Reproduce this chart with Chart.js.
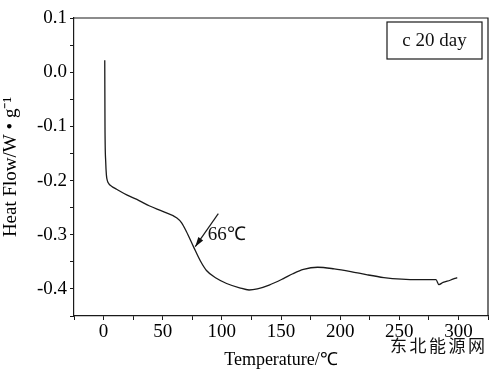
<!DOCTYPE html>
<html>
<head>
<meta charset="utf-8">
<script src="https://cdn.jsdelivr.net/npm/chart.js@4/dist/chart.umd.min.js"></script>
<style>
  html, body { margin: 0; padding: 0; background: #fff; }
  #wrap { width: 500px; height: 371px; }
</style>
</head>
<body>
<div id="wrap"><canvas id="dscChart" width="500" height="371"></canvas></div>
<script>
// DSC curve, sample c after 20 days
const temperature = [1, 1.2, 1.8, 2.4, 3.2, 4.5, 7, 11, 20, 30, 39, 50, 62, 66, 70, 76, 82, 87, 95, 104, 115, 123, 130, 140, 152, 160, 169, 181, 195, 209, 223, 237, 252, 266, 281, 283.5, 287, 293, 299];
const heatFlow = [0.022, -0.1, -0.165, -0.19, -0.2, -0.206, -0.211, -0.216, -0.227, -0.237, -0.247, -0.257, -0.269, -0.278, -0.294, -0.322, -0.349, -0.366, -0.38, -0.39, -0.398, -0.402, -0.4, -0.393, -0.381, -0.372, -0.364, -0.36, -0.363, -0.368, -0.374, -0.379, -0.382, -0.383, -0.383, -0.392, -0.388, -0.384, -0.379];
const xTicks = [0, 50, 100, 150, 200, 250, 300];
const yTicks = [0.1, 0.0, -0.1, -0.2, -0.3, -0.4];

const serif = "'Liberation Serif', 'Times New Roman', serif";

const points = temperature.map(function (t, i) { return { x: t, y: heatFlow[i] }; });

// frame, arrow note, sample label and watermark
const extras = {
    id: 'extras',
    afterDraw: function (chart) {
        const ctx = chart.ctx;
        const a = chart.chartArea;
        const xs = chart.scales.x;
        const ys = chart.scales.y;
        ctx.save();
        ctx.strokeStyle = '#1a1a1a';
        ctx.lineWidth = 1.2;
        ctx.beginPath();
        ctx.moveTo(a.left, a.top);
        ctx.lineTo(a.right, a.top);
        ctx.lineTo(a.right, a.bottom);
        ctx.stroke();

        // arrow pointing at the 66 °C transition
        const x1 = xs.getPixelForValue(97), y1 = ys.getPixelForValue(-0.261);
        const x2 = xs.getPixelForValue(77.5), y2 = ys.getPixelForValue(-0.322);
        ctx.beginPath();
        ctx.moveTo(x1, y1);
        ctx.lineTo(x2, y2);
        ctx.stroke();
        const ang = Math.atan2(y2 - y1, x2 - x1);
        ctx.fillStyle = '#111';
        ctx.beginPath();
        ctx.moveTo(x2, y2);
        ctx.lineTo(x2 - 10 * Math.cos(ang - 0.3), y2 - 10 * Math.sin(ang - 0.3));
        ctx.lineTo(x2 - 10 * Math.cos(ang + 0.3), y2 - 10 * Math.sin(ang + 0.3));
        ctx.closePath();
        ctx.fill();

        ctx.font = '19px ' + serif;
        ctx.textBaseline = 'middle';
        ctx.textAlign = 'left';
        ctx.fillText('66℃', xs.getPixelForValue(88), ys.getPixelForValue(-0.3));

        // sample label box
        const bw = 95, bh = 37;
        const bx = a.right - 6 - bw, by = a.top + 4;
        ctx.strokeRect(bx, by, bw, bh);
        ctx.textAlign = 'center';
        ctx.fillText('c 20 day', bx + bw / 2, by + bh / 2 + 1);

        // watermark
        ctx.font = '17px "Noto Sans CJK SC"';
        ctx.fillStyle = '#111';
        ctx.textAlign = 'left';
        const chars = '东北能源网'.split('');
        chars.forEach(function (c, i) { ctx.fillText(c, 390 + i * 19.5, 346); });
        ctx.restore();
    }
};

new Chart(document.getElementById('dscChart'), {
    type: 'line',
    data: {
        datasets: [{
            label: 'c 20 day',
            data: points,
            borderColor: '#1a1a1a',
            borderWidth: 1.3,
            pointRadius: 0,
            fill: false,
            cubicInterpolationMode: 'monotone'
        }]
    },
    options: {
        responsive: false,
        animation: false,
        layout: { padding: { top: 18, right: 12, left: 0, bottom: 0 } },
        plugins: {
            legend: { display: false },
            tooltip: { enabled: false }
        },
        scales: {
            x: {
                type: 'linear',
                min: -25,
                max: 325,
                afterFit: function (s) { s.height = 55; },
                afterBuildTicks: function (s) {
                    s.ticks = [-25, 0, 25, 50, 75, 100, 125, 150, 175, 200, 225, 250, 275, 300, 325].map(function (v) { return { value: v }; });
                },
                ticks: {
                    color: '#000',
                    font: { family: serif, size: 19 },
                    padding: 1,
                    maxRotation: 0,
                    autoSkip: false,
                    callback: function (v) { return xTicks.indexOf(v) >= 0 ? String(v) : ''; }
                },
                grid: { drawOnChartArea: false, tickLength: 4, color: '#1a1a1a' },
                border: { color: '#1a1a1a', width: 1.2 },
                title: {
                    display: true,
                    text: 'Temperature/℃',
                    color: '#000',
                    font: { family: serif, size: 18 },
                    padding: { top: 2, bottom: 0 }
                }
            },
            y: {
                min: -0.45,
                max: 0.1,
                afterFit: function (s) { s.width = 74; },
                afterBuildTicks: function (s) {
                    const t = [];
                    for (let k = -9; k <= 2; k++) t.push({ value: k * 0.05 });
                    s.ticks = t;
                },
                ticks: {
                    color: '#000',
                    font: { family: serif, size: 19 },
                    padding: 3,
                    autoSkip: false,
                    callback: function (v) {
                        const n = Math.round(v * 100);
                        if (n % 10 !== 0) return '';
                        const match = yTicks.find(function (y) { return Math.round(y * 100) === n; });
                        return match === undefined ? '' : match.toFixed(1);
                    }
                },
                grid: { drawOnChartArea: false, tickLength: 4, color: '#1a1a1a' },
                border: { color: '#1a1a1a', width: 1.2 },
                title: {
                    display: true,
                    text: 'Heat Flow/W • g⁻¹',
                    color: '#000',
                    font: { family: serif, size: 19 },
                    padding: { top: 0, bottom: 2 }
                }
            }
        }
    },
    plugins: [extras]
});
</script>
</body>
</html>
